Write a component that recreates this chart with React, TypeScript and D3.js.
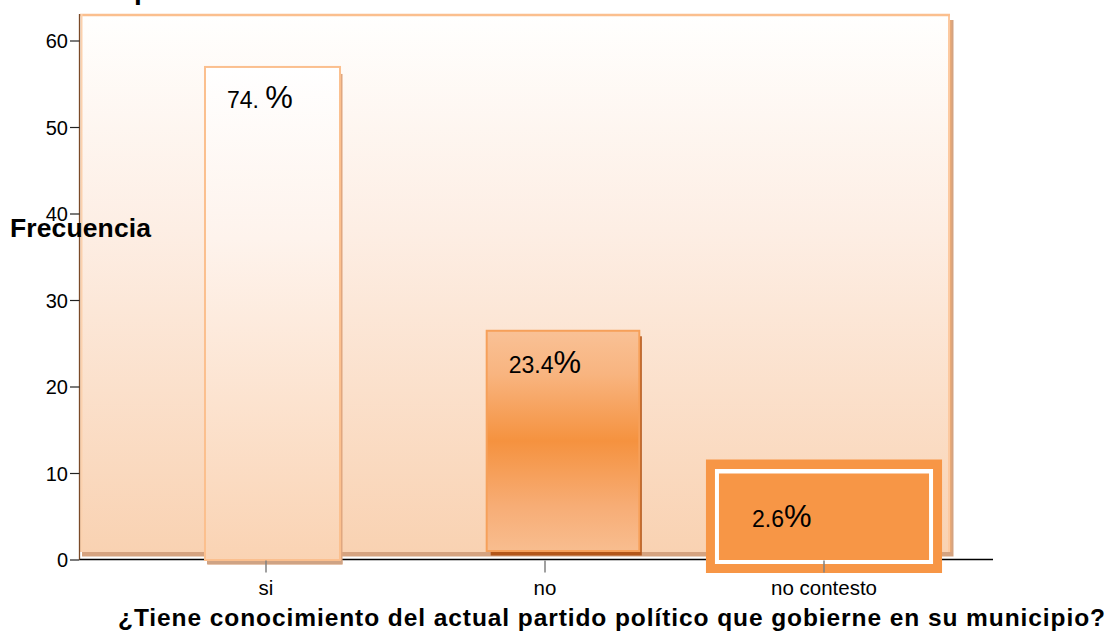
import React from "react";
import * as d3 from "d3";

const categories = ["si", "no", "no contesto"];
const frequencies = [57, 26.5, 10];
const percentNumbers = ["74. ", "23.4", "2.6"];
const yTicks = [0, 10, 20, 30, 40, 50, 60];
const yLabel = "Frecuencia";
const xLabel = "¿Tiene conocimiento del actual partido político que gobierne en su municipio?";

// per-bar drawing styles (fractions of band width / pixel offsets)
const barStyles = [
  { kind: "outline", widthFrac: 0.484, dx: 6.5, lift: 0, labelDx: 22, labelDy: 41 },
  { kind: "gradient", widthFrac: 0.547, dx: 18, lift: 9, labelDx: 22, labelDy: 42 },
  { kind: "frame", widthFrac: 0.753, dx: 0, lift: 0, labelDx: 33, labelDy: 53 },
];

const W = 1109;
const H = 635;
const FONT = "'Liberation Sans', Arial, Helvetica, sans-serif";

export default function App() {
  const x = d3.scaleBand<string>().domain(categories).range([126.5, 963.5]).padding(0);
  const y = d3.scaleLinear().domain([0, 60]).range([560, 41]);
  const bw = x.bandwidth();

  const panel = { x0: 80, x1: 950, y0: 14, y1: 552 };

  return (
    <svg
      width={W}
      height={H}
      style={{ position: "absolute", left: 0, top: 0, background: "#ffffff" }}
      fontFamily={FONT}
    >
      <defs>
        <linearGradient id="panelGrad" gradientUnits="userSpaceOnUse" x1="0" y1={panel.y0} x2="0" y2={panel.y1}>
          <stop offset="0" stopColor="#fffffe" />
          <stop offset="0.4" stopColor="#fdeee4" />
          <stop offset="1" stopColor="#f9d2b2" />
        </linearGradient>
        <linearGradient id="siGrad" gradientUnits="userSpaceOnUse" x1="0" y1={y(57)} x2="0" y2={y(0)}>
          <stop offset="0" stopColor="#ffffff" />
          <stop offset="0.35" stopColor="#fef3ec" />
          <stop offset="1" stopColor="#fad3b3" />
        </linearGradient>
        <linearGradient id="noGrad" x1="0" y1="0" x2="0" y2="1">
          <stop offset="0" stopColor="#f9c196" />
          <stop offset="0.2" stopColor="#f8b47f" />
          <stop offset="0.5" stopColor="#f5923f" />
          <stop offset="0.8" stopColor="#f7ad76" />
          <stop offset="1" stopColor="#f8bd8f" />
        </linearGradient>
      </defs>

      {/* title fragment (cut off at top) */}
      <text x={134} y={-1} fontSize={28} fontWeight="bold" fill="#000">p</text>

      {/* plot panel with shadow */}
      <rect x={panel.x0 + 2} y={panel.y0 + 6} width={panel.x1 - panel.x0 + 1.5} height={panel.y1 - panel.y0 - 1.5} fill="#d5a380" />
      <rect x={panel.x1 - 1} y={panel.y0 + 6} width={2.5} height={panel.y1 - panel.y0 - 6} fill="#e9aa77" />
      <rect x={panel.x0} y={panel.y0} width={panel.x1 - panel.x0} height={panel.y1 - panel.y0} fill="url(#panelGrad)" />
      <line x1={panel.x1 - 1} x2={panel.x1 - 1} y1={panel.y0} y2={panel.y1} stroke="#fcc9a0" strokeWidth={2} />
      <line x1={panel.x0} x2={panel.x1} y1={panel.y0 + 1} y2={panel.y0 + 1} stroke="#fbbf8e" strokeWidth={2.5} />
      <line x1={panel.x0 + 1.5} x2={panel.x0 + 1.5} y1={panel.y0} y2={panel.y1} stroke="#fbd1ae" strokeWidth={2} />

      {/* axes lines */}
      <line x1={79.5} x2={79.5} y1={panel.y0} y2={y(0)} stroke="#7a4a28" strokeWidth={1.3} />
      <line x1={80} x2={993} y1={559.5} y2={559.5} stroke="#000" strokeWidth={1.3} />

      {/* y ticks */}
      {yTicks.map((t) => (
        <g key={t}>
          <line x1={70} x2={79.5} y1={y(t)} y2={y(t)} stroke="#222" strokeWidth={1.2} />
          <text x={68} y={y(t) + 7} textAnchor="end" fontSize={20} fill="#000">{t}</text>
        </g>
      ))}

      {/* bars */}
      {categories.map((c, i) => {
        const s = barStyles[i];
        const w = bw * s.widthFrac;
        const cx = (x(c) as number) + bw / 2 + s.dx;
        const bx = cx - w / 2;
        const top = y(frequencies[i]);
        const bottom = y(0) - s.lift;
        const h = bottom - top;
        const lx = bx + s.labelDx;
        const ly = top + s.labelDy;
        return (
          <g key={c}>
            {s.kind === "outline" && (
              <g>
                <rect x={bx + 2.5} y={top + 7} width={w} height={h - 2.5} fill="#e0a77f" />
                <rect x={bx + 2} y={bottom} width={w + 0.5} height={4.3} fill="#cfa384" />
                <rect x={bx} y={top} width={w} height={h} fill="url(#siGrad)" stroke="#fbbf8e" strokeWidth={2} />
              </g>
            )}
            {s.kind === "gradient" && (
              <g>
                <rect x={bx + 4} y={top + 5.5} width={w - 1.5} height={h - 1} fill="#b3571a" />
                <rect x={bx} y={top} width={w} height={h} fill="url(#noGrad)" stroke="#f6a05a" strokeWidth={2} />
              </g>
            )}
            {s.kind === "frame" && (
              <g>
                <rect x={bx - 13} y={top - 14} width={w + 26} height={h + 27} fill="#f79646" />
                <rect x={bx - 4} y={top - 4.5} width={w + 8} height={h + 8.5} fill="#fff" />
                <rect x={bx} y={top} width={w} height={h} fill="#f79646" />
              </g>
            )}
            <text x={lx} y={ly} fill="#000">
              <tspan fontSize={23}>{percentNumbers[i]}</tspan>
              <tspan fontSize={31}>%</tspan>
            </text>
          </g>
        );
      })}

      {/* x ticks and labels */}
      {categories.map((c) => {
        const cx = (x(c) as number) + bw / 2;
        return (
          <g key={c}>
            <line x1={cx} x2={cx} y1={560.5} y2={572.5} stroke="#808080" strokeWidth={1.5} />
            <text x={cx} y={595} textAnchor="middle" fontSize={20.5} fill="#000">{c}</text>
          </g>
        );
      })}

      {/* axis titles */}
      <text x={10} y={236.5} fontSize={26.5} fontWeight="bold" fill="#000" textLength={141}>{yLabel}</text>
      <text x={118} y={626} fontSize={24.5} fontWeight="bold" fill="#000" textLength={987}>{xLabel}</text>
    </svg>
  );
}
